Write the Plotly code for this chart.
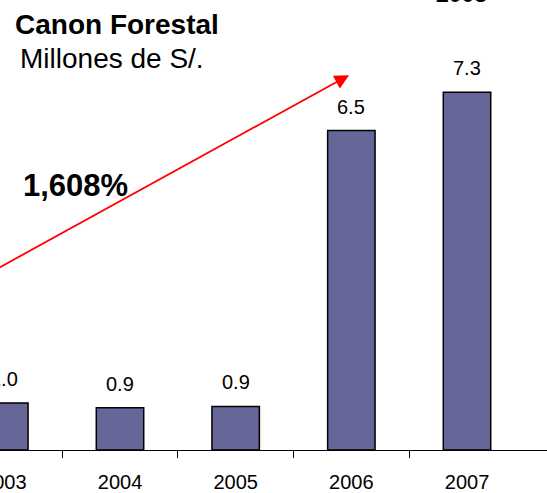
import plotly.graph_objects as go

# Data
years = ["2003", "2004", "2005", "2006", "2007"]
canon = [0.96, 0.86, 0.89, 6.52, 7.30]
growth_label = "1,608%"
title_main = "Canon Forestal"
title_sub = "Millones de S/."
top_cut_label = "2008"

xs = list(range(len(years)))
FONT = "Liberation Sans, Arial, sans-serif"

fig = go.Figure()
fig.add_trace(go.Bar(
    x=xs, y=canon,
    marker=dict(color="#666699", line=dict(color="#000000", width=1.5)),
    hoverinfo="skip",
))

annotations = []
for xi, v in zip(xs, canon):
    annotations.append(dict(
        x=xi, y=v, xref="x", yref="y", text=f"{v:.1f}", showarrow=False,
        xanchor="center", yanchor="middle", yshift=24,
        font=dict(family=FONT, size=20, color="#000"),
    ))

# Red growth arrow
annotations.append(dict(
    x=2.98, y=7.65, xref="x", yref="y",
    ax=-0.5, ay=3.13, axref="x", ayref="y",
    text="", showarrow=True, arrowhead=2, arrowsize=1.6, arrowwidth=1.8,
    arrowcolor="#ff0000",
))
annotations.append(dict(
    x=75 / 547, y=(450 - 185) / 450, xref="paper", yref="paper",
    xanchor="center", yanchor="middle",
    text=f"<b>{growth_label}</b>", showarrow=False,
    font=dict(family=FONT, size=31, color="#000"),
))
annotations.append(dict(
    x=13 / 547, y=(450 - 24) / 450, xref="paper", yref="paper",
    xanchor="left", yanchor="middle",
    text=f"<b>{title_main}</b>", showarrow=False,
    font=dict(family=FONT, size=28, color="#000"),
))
annotations.append(dict(
    x=18 / 547, y=(450 - 59) / 450, xref="paper", yref="paper",
    xanchor="left", yanchor="middle",
    text=title_sub, showarrow=False,
    font=dict(family=FONT, size=28, color="#000"),
))
annotations.append(dict(
    x=461 / 547, y=(450 - 9) / 450, xref="paper", yref="paper",
    xanchor="center", yanchor="bottom",
    text=f"<b>{top_cut_label}</b>", showarrow=False,
    font=dict(family=FONT, size=23, color="#000"),
))

fig.update_layout(
    width=547, height=493,
    margin=dict(l=0, r=0, t=0, b=43, autoexpand=False),
    paper_bgcolor="white", plot_bgcolor="white",
    bargap=0.59, showlegend=False,
    annotations=annotations,
    font=dict(family=FONT, size=20, color="#000"),
    xaxis=dict(
        range=[-0.0375, 4.6915], automargin=False,
        tickmode="array", tickvals=xs, ticktext=years,
        ticks="", showgrid=False, zeroline=False,
        showline=True, linecolor="#000", linewidth=1,
        ticklabelstandoff=14, ticklabeloverflow="allow",
        tickfont=dict(family=FONT, size=20, color="#000"),
        minor=dict(tickmode="array", tickvals=[i + 0.5 for i in xs[:-1]],
                   ticks="outside", ticklen=7, tickcolor="#000", tickwidth=1, showgrid=False),
    ),
    yaxis=dict(range=[0, 450 / 49], visible=False, automargin=False),
)

fig.write_html("out.html", config={"displayModeBar": False},
               post_script="document.body.style.margin='0';")
